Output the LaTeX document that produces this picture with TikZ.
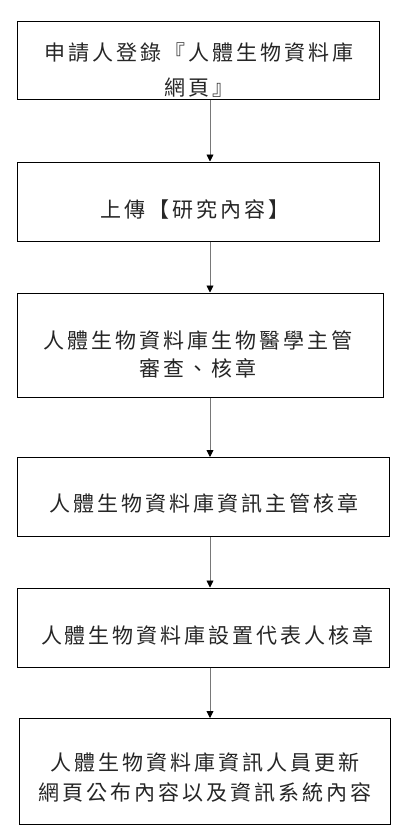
\documentclass[tikz,border=0pt]{standalone}
\usepackage{fontspec}
\newfontfamily\cjk{Noto Sans CJK TC}
\usetikzlibrary{arrows.meta}
\def\cjkspread#1{\ifx#1\relax\else\makebox[24pt]{#1}\expandafter\cjkspread\fi}
\definecolor{arrgray}{RGB}{120,120,120}
\begin{document}
\begin{tikzpicture}[x=1pt,y=-1pt,
  stepbox/.style={draw=black,line width=1pt,rectangle,inner sep=0pt},
  lbl/.style={inner sep=0pt,align=center,text=black!85,font=\cjk\fontsize{21}{25}\selectfont},
  arr/.style={draw=arrgray,line width=0.9pt,-{Triangle[width=7pt,length=7pt,color=black]}}]
\useasboundingbox[fill=white] (0,0) rectangle (410,838);
\coordinate (ax) at (210,0);
\node[stepbox,minimum width=362pt,minimum height=78pt] (b1) at (198.5,60) {};
\node[stepbox,minimum width=362pt,minimum height=79pt] (b2) at (198.5,201.5) {};
\node[stepbox,minimum width=365.5pt,minimum height=104pt] (b3) at (200.25,345) {};
\node[stepbox,minimum width=371.5pt,minimum height=78.5pt] (b4) at (203.25,496.75) {};
\node[stepbox,minimum width=372pt,minimum height=79pt] (b5) at (203.5,627.5) {};
\node[stepbox,minimum width=370.5pt,minimum height=105.5pt] (b6) at (204.75,771.25) {};
\node[lbl] (t1) at (199,70.5) {\cjkspread 申請人登錄『人體生物資料庫\relax\\[10pt]\cjkspread 網頁』\relax};
\node[lbl] (t2) at (195,210) {\cjkspread 上傳【研究內容】\relax};
\node[lbl] (t3) at (198,354) {\cjkspread 人體生物資料庫生物醫學主管\relax\\[3pt]\cjkspread 審查、核章\relax};
\node[lbl] (t4) at (204.5,503) {\cjkspread 人體生物資料庫資訊主管核章\relax};
\node[lbl] (t5) at (207.5,635) {\cjkspread 人體生物資料庫設置代表人核章\relax};
\node[lbl] (t6) at (205,778) {\cjkspread 人體生物資料庫資訊人員更新\relax\\[5pt]\cjkspread 網頁公布內容以及資訊系統內容\relax};
\draw[arr] (b1.south -| ax) -- (b2.north -| ax);
\draw[arr] (b2.south -| ax) -- (b3.north -| ax);
\draw[arr] (b3.south -| ax) -- (b4.north -| ax);
\draw[arr] (b4.south -| ax) -- (b5.north -| ax);
\draw[arr] (b5.south -| ax) -- (b6.north -| ax);
\end{tikzpicture}
\end{document}
